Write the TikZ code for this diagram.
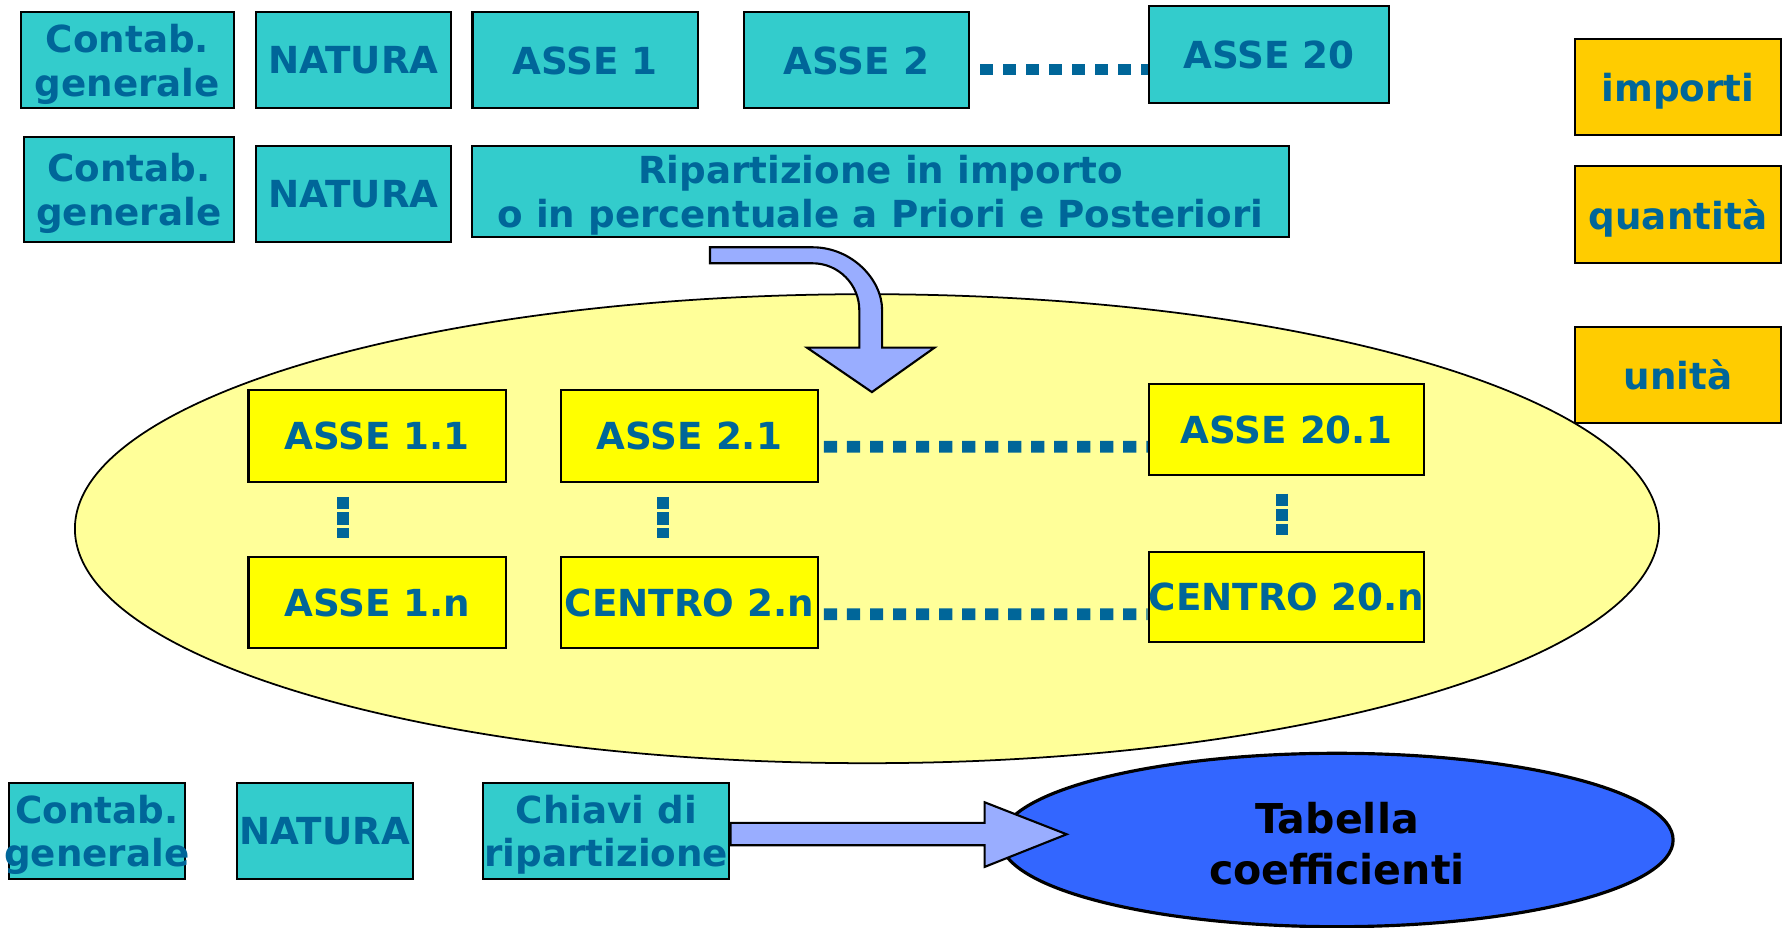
\documentclass[tikz,border=0pt]{standalone}
\usepackage{fontspec}
\setmainfont{DejaVu Sans}
\usetikzlibrary{shapes.geometric}
\definecolor{txtblue}{RGB}{0,102,153}
\definecolor{boxteal}{RGB}{51,204,204}
\definecolor{boxorange}{RGB}{255,204,0}
\definecolor{boxyellow}{RGB}{255,255,0}
\definecolor{paleyellow}{RGB}{255,255,153}
\definecolor{arrowblue}{RGB}{153,173,255}
\definecolor{tabblue}{RGB}{51,102,255}

\begin{document}
\begin{tikzpicture}[
    tbox/.style={draw, line width=0.6pt, fill=boxteal, text=txtblue, align=center, inner sep=0pt, text depth=0pt,
        font=\fontsize{10.6}{12.4}\selectfont\bfseries},
    obox/.style={tbox, fill=boxorange},
    ybox/.style={tbox, fill=boxyellow},
    lbl/.style={text=txtblue, align=center, inner sep=0pt, text depth=0pt, font=\fontsize{10.6}{12.4}\selectfont\bfseries},
    dotline/.style={txtblue, line width=3.3pt, dash pattern=on 3.75pt off 2.8pt},
    vdots/.style={txtblue, line width=3.3pt, dash pattern=on 3.5pt off 0.9pt},
    fatarrow/.style={draw, line width=0.6pt, fill=arrowblue, line join=miter}
]
    \useasboundingbox (0,0) rectangle (17.87,-9.28);

    \node[draw, ellipse, line width=0.5pt, fill=paleyellow, minimum width=15.842cm, minimum height=4.69cm] (area) at (8.67,-5.287) {};

    \node[tbox, minimum width=2.124cm, minimum height=0.96cm] (cg1) at (1.274,-0.603) {Contab.\\generale};
    \node[tbox, minimum width=1.942cm, minimum height=0.96cm] (nat1) at (3.535,-0.603) {NATURA};
    \node[tbox, minimum width=2.251cm, minimum height=0.96cm] (asse1) at (5.85,-0.603) {ASSE 1};
    \node[tbox, minimum width=2.245cm, minimum height=0.96cm] (asse2) at (8.565,-0.603) {ASSE 2};
    \node[tbox, minimum width=2.399cm, minimum height=0.966cm] (asse20) at (12.687,-0.543) {ASSE 20};
    \draw[dotline] ([shift={(0.103,-0.092)}]asse2.east) -- ([yshift=-0.152cm]asse20.west);

    \node[obox, minimum width=2.062cm, minimum height=0.966cm] (importi) at (16.779,-0.87) {importi};
    \node[obox, minimum width=2.062cm, minimum height=0.969cm] (quantita) at (16.779,-2.148) {quantità};
    \node[obox, minimum width=2.062cm, minimum height=0.957cm] (unita) at (16.779,-3.75) {unità};

    \node[tbox, minimum width=2.097cm, minimum height=1.055cm] (cg2) at (1.288,-1.895) {Contab.\\generale};
    \node[tbox, minimum width=1.942cm, minimum height=0.966cm] (nat2) at (3.535,-1.94) {NATURA};
    \node[tbox, minimum width=8.163cm, minimum height=0.91cm] (rip) at (8.805,-1.912) {Ripartizione in importo\\o in percentuale a Priori e Posteriori};

    \filldraw[fatarrow] (7.1,-2.473) -- (8.126,-2.473) .. controls (8.514,-2.473) and (8.821,-2.792) .. (8.821,-3.1)
        -- (8.821,-3.476) -- (9.346,-3.476) -- (8.719,-3.921) -- (8.069,-3.476) -- (8.593,-3.476) -- (8.593,-3.1)
        .. controls (8.593,-2.849) and (8.388,-2.633) .. (8.126,-2.633) -- (7.1,-2.633) -- cycle;

    \node[ybox, minimum width=2.572cm, minimum height=0.918cm] (a11) at (3.771,-4.357) {ASSE 1.1};
    \node[ybox, minimum width=2.574cm, minimum height=0.918cm] (a21) at (6.894,-4.357) {ASSE 2.1};
    \node[ybox, minimum width=2.752cm, minimum height=0.912cm] (a201) at (12.864,-4.297) {ASSE 20.1};
    \node[ybox, minimum width=2.572cm, minimum height=0.918cm] (a1n) at (3.771,-6.025) {ASSE 1.n};
    \node[ybox, minimum width=2.574cm, minimum height=0.918cm] (c2n) at (6.894,-6.025) {CENTRO 2.n};
    \node[ybox, minimum width=2.752cm, minimum height=0.9cm] (c20n) at (12.864,-5.966) {CENTRO 20.n};

    \draw[dotline] ([shift={(0.048,-0.111)}]a21.east) -- ([yshift=-0.171cm]a201.west);
    \draw[dotline] ([shift={(0.048,-0.118)}]c2n.east) -- ([yshift=-0.177cm]c20n.west);
    \draw[vdots] ([shift={(-0.34,-0.142)}]a11.south) -- ([shift={(-0.34,0.175)}]a1n.north);
    \draw[vdots] ([shift={(-0.263,-0.142)}]a21.south) -- ([shift={(-0.263,0.175)}]c2n.north);
    \draw[vdots] ([shift={(-0.043,-0.172)}]a201.south) -- ([shift={(-0.043,0.159)}]c20n.north);

    \node[tbox, minimum width=1.755cm, minimum height=0.961cm] (cg3) at (0.969,-8.307) {};
    \node[lbl] at (cg3) {Contab.\\generale};
    \node[tbox, minimum width=1.755cm, minimum height=0.961cm] (nat3) at (3.248,-8.307) {NATURA};
    \node[tbox, minimum width=2.462cm, minimum height=0.961cm] (chiavi) at (6.063,-8.307) {Chiavi di\\ripartizione};

    \node[draw, ellipse, line width=0.9pt, fill=tabblue, minimum width=6.724cm, minimum height=1.734cm] (tab) at (13.369,-8.4) {};
    \node[align=center, inner sep=0pt, font=\fontsize{11.7}{14.5}\selectfont\bfseries] at ([yshift=-0.04cm]tab.center) {Tabella\\coefficienti};

    \filldraw[fatarrow] ([yshift=0.078cm]chiavi.east) -- ++(2.542,0) -- ++(0,0.206)
        -- ([shift={(3.362,-0.036)}]chiavi.east) -- ([shift={(2.542,-0.362)}]chiavi.east) -- ++(0,0.217)
        -- ([yshift=-0.145cm]chiavi.east) -- cycle;
\end{tikzpicture}
\end{document}
